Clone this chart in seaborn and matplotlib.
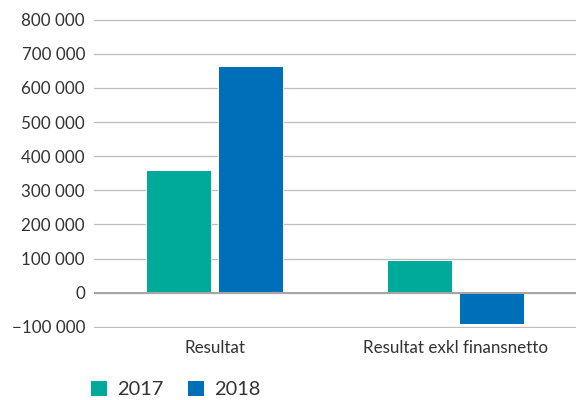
import pandas as pd
import numpy as np
import matplotlib.pyplot as plt
import seaborn as sns

sns.set_style("white")
plt.rcParams["font.family"] = ["Lato", "DejaVu Sans"]

categories = ["Resultat", "Resultat exkl finansnetto"]
years = ["2017", "2018"]
values_2017 = [360000, 97000]
values_2018 = [663000, -90000]
yticks = np.arange(-100000, 800001, 100000)

df = pd.DataFrame({
    "kategori": categories * 2,
    "ar": [years[0]] * 2 + [years[1]] * 2,
    "varde": values_2017 + values_2018,
})

fig = plt.figure(figsize=(8, 400 / 72), dpi=72)
ax = fig.add_axes([94 / 576, 1 - 328 / 400, 1 - 94 / 576, (328 - 18.5) / 400])

sns.barplot(data=df, x="kategori", y="varde", hue="ar",
            palette=["#00AA9B", "#006FBA"], width=0.6, gap=0.1,
            saturation=1, ax=ax)

ax.set_ylim(-103000, 803000)
ax.set_yticks(yticks)
ax.set_yticklabels([f"{v:,}".replace(",", " ").replace("-", "\u2212") for v in yticks])
ax.yaxis.grid(True, color="#BDBDBD", lw=1.3)
ax.axhline(0, color="#A6A6A6", lw=2, zorder=1)
ax.set_axisbelow(True)
for s in ax.spines.values():
    s.set_visible(False)
ax.tick_params(axis="y", length=0, pad=9, labelsize=17, labelcolor="#333333")
ax.tick_params(axis="x", length=0, pad=12, labelsize=17, labelcolor="#333333")
ax.set_xlabel("")
ax.set_ylabel("")

handles, labels = ax.get_legend_handles_labels()
ax.get_legend().remove()
fig.legend(handles, labels, loc="lower left", bbox_to_anchor=(76 / 576, -0.03),
           ncol=2, frameon=False, fontsize=20, handlelength=0.85, handleheight=0.85,
           handletextpad=0.5, columnspacing=1.2, borderpad=0.2, labelcolor="#333333")

fig.savefig("out.png", dpi=72)
